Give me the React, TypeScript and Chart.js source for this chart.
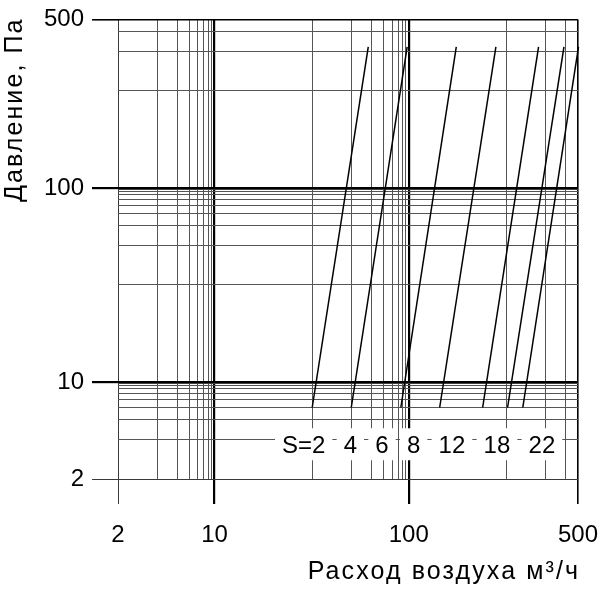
import React, { useEffect, useRef } from 'react';
import { Chart, registerables, LinearScale } from 'chart.js';

Chart.register(...registerables);

// ---------------- data ----------------
const sValues = [2, 4, 6, 8, 12, 18, 22];
// air flow (m³/h) at the lower and upper end of each S line
const flowAtLowPressure = [20, 30, 76, 123, 165, 202, 233];
const flowAtHighPressure = [38, 94, 137, 183, 276, 389, 505];
const lowPressure = 5; // Pa
const highPressure = 320; // Pa

const xGridValues = [2, 3, 4, 5, 6, 7, 8, 9, 10, 20, 30, 40, 50, 60, 70, 80, 90, 100, 200, 300, 400, 500];
const yGridValues = [2, 3, 4, 5, 6, 7, 8, 9, 9.5, 10, 20, 30, 40, 50, 60, 70, 80, 90, 95, 100, 200, 300, 400, 500];
const labeledTicks = [2, 10, 100, 500];
const boldTicks = [10, 100];
const labelRowPressure = 2.78;

const xTitle = 'Расход воздуха м³/ч';
const yTitle = 'Давление, Па';

// ---------------- scale: decades with a compressed (reciprocal-like) grid ----------------
const CURVE = 1.17;
function toPos(v: number): number {
  const d = Math.floor(Math.log10(v) + 1e-9);
  const m = v / Math.pow(10, d);
  const g = Math.pow(Math.max(0, (1 - 1 / m) / 0.9), CURVE);
  return d + g;
}
function fromPos(p: number): number {
  const d = Math.floor(p);
  const f = p - d;
  const m = 1 / (1 - 0.9 * Math.pow(f, 1 / CURVE));
  return m * Math.pow(10, d);
}

const GRID_BY_AXIS: Record<string, number[]> = { x: xGridValues, y: yGridValues };
const TITLE_SPACING = 2.1;

class DecadeScale extends LinearScale {
  static id = 'decade';
  static defaults = LinearScale.defaults;

  determineDataLimits() {
    const o: any = this.options;
    this.min = o.min;
    this.max = o.max;
  }
  buildTicks() {
    const vals = GRID_BY_AXIS[(this as any).axis] || [];
    return vals.filter((v) => v >= this.min && v <= this.max).map((v) => ({ value: v }));
  }
  getPixelForValue(value: number) {
    if (value == null || !isFinite(value) || value <= 0) return NaN;
    const a = toPos(this.min);
    const b = toPos(this.max);
    return this.getPixelForDecimal((toPos(value) - a) / (b - a));
  }
  getValueForPixel(pixel: number) {
    const a = toPos(this.min);
    const b = toPos(this.max);
    return fromPos(a + this.getDecimalForPixel(pixel) * (b - a));
  }
  drawTitle() {
    const ctx: any = this.ctx;
    ctx.save();
    ctx.letterSpacing = TITLE_SPACING + 'px';
    if (this.isHorizontal()) ctx.translate(TITLE_SPACING, 0);
    else ctx.translate(0, -TITLE_SPACING);
    // @ts-ignore
    super.drawTitle();
    ctx.restore();
  }
}
Chart.register(DecadeScale as any);

const FONT = '"Liberation Sans", Arial, Helvetica, sans-serif';

const gridColor = (c: any) => {
  const v = c.tick ? c.tick.value : null;
  if (boldTicks.includes(v) || v === 500) return '#000';
  if (v === 2) return '#3a3a3a';
  return '#555555';
};
const gridWidth = (c: any) => {
  const v = c.tick ? c.tick.value : null;
  if (boldTicks.includes(v)) return 2.2;
  if (v === 500) return 1.6;
  return 1;
};
const tickColor = (c: any) => {
  const v = c.tick ? c.tick.value : null;
  if (!labeledTicks.includes(v)) return 'rgba(0,0,0,0)';
  return v === 2 ? '#3a3a3a' : '#000';
};
const tickLabel = (v: any) => (labeledTicks.includes(Number(v)) ? String(v) : '');

const labelRowPlugin = {
  id: 'sLabelRow',
  afterDatasetsDraw(chart: any) {
    const { ctx, chartArea, scales } = chart;
    const labels = sValues.map((s, i) => (i === 0 ? `S=${s}` : String(s)));
    ctx.save();
    ctx.font = `24px ${FONT}`;
    ctx.textBaseline = 'middle';
    ctx.textAlign = 'left';
    const cy = scales.y.getPixelForValue(labelRowPressure);
    let x = chartArea.left + 164;
    const gap = 18.3;
    labels.forEach((t) => {
      const w = ctx.measureText(t).width;
      ctx.fillStyle = '#ffffff';
      ctx.fillRect(x - 7, cy - 18, w + 14, 32);
      ctx.fillStyle = '#000';
      ctx.fillText(t, x, cy);
      x += w + gap;
    });
    ctx.restore();
  },
};

export default function App() {
  const canvasRef = useRef<HTMLCanvasElement | null>(null);

  useEffect(() => {
    if (!canvasRef.current) return;
    const datasets = sValues.map((s, i) => ({
      label: `S=${s}`,
      data: [
        { x: flowAtLowPressure[i], y: lowPressure },
        { x: flowAtHighPressure[i], y: highPressure },
      ],
      showLine: true,
      borderColor: '#000',
      borderWidth: 1.5,
      pointRadius: 0,
      clip: false as any,
    }));

    const chart = new Chart(canvasRef.current, {
      type: 'scatter',
      data: { datasets },
      plugins: [labelRowPlugin],
      options: {
        animation: false,
        responsive: false,
        events: [],
        layout: { padding: { top: 19.5, right: 22, left: 0, bottom: 0 } },
        plugins: { legend: { display: false }, tooltip: { enabled: false } },
        scales: {
          x: {
            type: 'decade' as any,
            position: 'bottom',
            min: 2,
            max: 500,
            afterFit: (s: any) => {
              s.height = 129;
              s.paddingLeft = 0;
              s.paddingRight = 0;
            },
            border: { display: false },
            grid: { color: gridColor, lineWidth: gridWidth, tickColor, tickLength: 25, drawTicks: true },
            ticks: {
              autoSkip: false,
              maxRotation: 0,
              minRotation: 0,
              padding: 17,
              color: '#000',
              font: { size: 24, family: FONT },
              callback: tickLabel,
            },
            title: {
              display: true,
              text: xTitle,
              align: 'end',
              color: '#000',
              font: { size: 25, family: FONT },
              padding: { top: 0, bottom: 21 },
            },
          } as any,
          y: {
            type: 'decade' as any,
            position: 'left',
            min: 2,
            max: 500,
            afterFit: (s: any) => {
              s.width = 118;
              s.paddingTop = 0;
              s.paddingBottom = 0;
            },
            border: { display: false },
            grid: { color: gridColor, lineWidth: gridWidth, tickColor, tickLength: 26, drawTicks: true },
            ticks: {
              autoSkip: false,
              padding: 8,
              color: '#000',
              font: { size: 24, family: FONT },
              callback: tickLabel,
            },
            title: {
              display: true,
              text: yTitle,
              align: 'end',
              color: '#000',
              font: { size: 25, family: FONT },
              padding: { top: 0, bottom: 0 },
            },
          } as any,
        },
      },
    });
    return () => chart.destroy();
  }, []);

  return (
    <div style={{ position: 'absolute', left: 0, top: 0, width: 600, height: 608, background: '#fff' }}>
      <canvas ref={canvasRef} width={600} height={608} style={{ display: 'block' }} />
    </div>
  );
}
